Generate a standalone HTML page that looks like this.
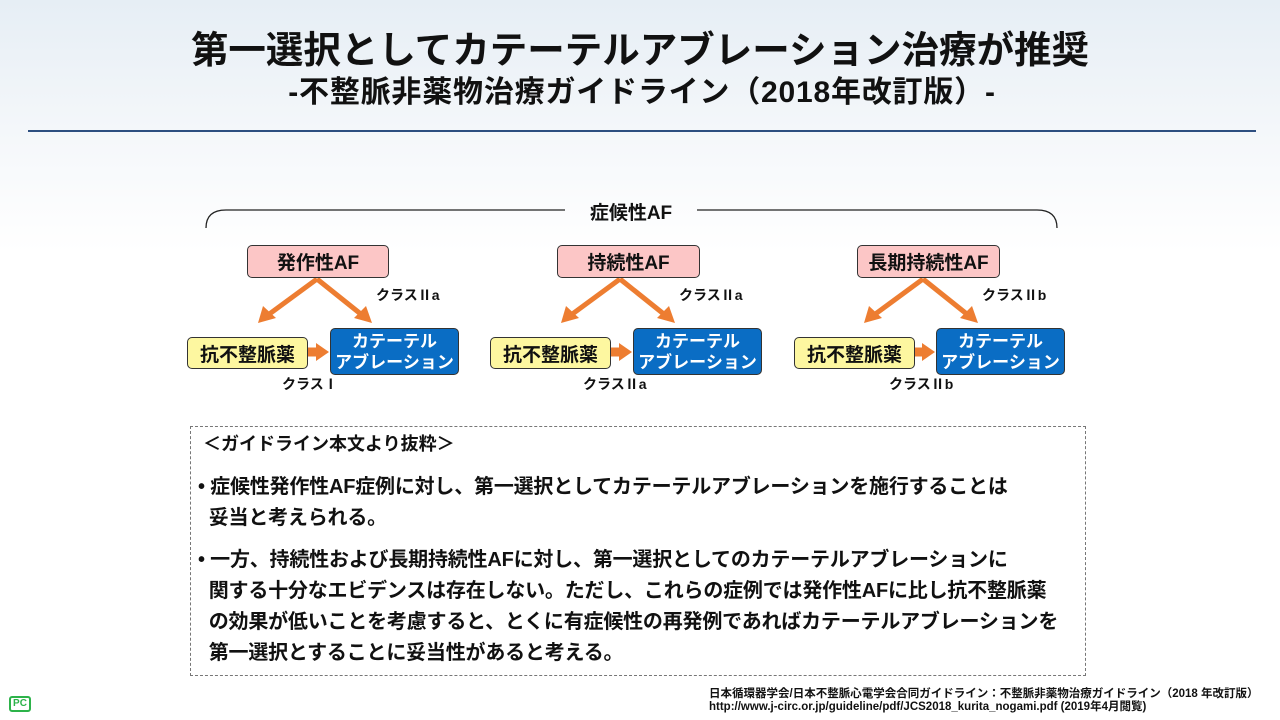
<!DOCTYPE html>
<html><head><meta charset="utf-8"><style>
body{margin:0;width:1280px;height:720px;overflow:hidden;font-family:"Liberation Sans","Noto Sans CJK JP",sans-serif;font-weight:bold;color:#111;
background:linear-gradient(180deg,#e6eef5 0%,#f4f7fa 18%,#fff 35%,#fff 100%);position:relative}
.a{position:absolute}
.t1{left:0;width:1280px;text-align:center;top:26px;font-size:37.5px;line-height:48px;padding-left:0}
.t2{left:0;width:1280px;text-align:center;top:75px;font-size:30px;line-height:36px;letter-spacing:0.8px;padding-left:2px}
.box{position:absolute;box-sizing:border-box;border:1.5px solid #333;border-radius:5px;display:flex;align-items:center;justify-content:center;text-align:center}
.pk{background:#fcc6c6;font-size:19px;height:33px;top:245px}
.yl{background:#fdf7a0;font-size:19px;width:121px;height:32px;top:337px}
.bl{background:#0a6dc4;color:#fff;font-size:17px;line-height:21px;width:129px;height:47px;top:328px}
.lb{font-size:14px}
.txt{font-size:20px;line-height:31px;letter-spacing:-0.2px}
</style></head><body>
<div class="a t1">第一選択としてカテーテルアブレーション治療が推奨</div>
<div class="a t2">-不整脈非薬物治療ガイドライン（2018年改訂版）-</div>
<div class="a" style="left:28px;top:130px;width:1228px;height:1.5px;background:#2d4f80"></div>
<svg class="a" style="left:0;top:0" width="1280" height="720">
<path d="M206 228 Q206 210 226 210 L565 210 M697 210 L1037 210 Q1057 210 1057 228" fill="none" stroke="#222" stroke-width="1.3"/>
<g fill="#ed7d31" stroke="#ed7d31">
<g id="g1">
<line x1="317" y1="279" x2="268" y2="315" stroke-width="5"/><polygon points="258,323 263,306 276,318" stroke="none"/>
<line x1="317" y1="279" x2="362" y2="315" stroke-width="5"/><polygon points="372,323 354,318 366,306" stroke="none"/>
<line x1="308" y1="352" x2="318" y2="352" stroke-width="9"/><polygon points="316,343 329,352 316,361" stroke="none"/>
</g>
<use href="#g1" x="303"/>
<use href="#g1" x="606"/>
</g>
</svg>
<div class="a" style="left:565px;width:132px;top:198px;text-align:center;font-size:19px">症候性AF</div>

<div class="box pk" style="left:247px;width:142px">発作性AF</div>
<div class="box yl" style="left:187px">抗不整脈薬</div>
<div class="box bl" style="left:330px">カテーテル<br>アブレーション</div>
<div class="a lb" style="left:376px;top:285px">クラスⅡa</div>
<div class="a lb" style="left:282px;top:374px">クラスⅠ</div>

<div class="box pk" style="left:557px;width:143px">持続性AF</div>
<div class="box yl" style="left:490px">抗不整脈薬</div>
<div class="box bl" style="left:633px">カテーテル<br>アブレーション</div>
<div class="a lb" style="left:679px;top:285px">クラスⅡa</div>
<div class="a lb" style="left:583px;top:374px">クラスⅡa</div>

<div class="box pk" style="left:857px;width:143px">長期持続性AF</div>
<div class="box yl" style="left:794px">抗不整脈薬</div>
<div class="box bl" style="left:936px">カテーテル<br>アブレーション</div>
<div class="a lb" style="left:982px;top:285px">クラスⅡb</div>
<div class="a lb" style="left:889px;top:374px">クラスⅡb</div>

<div class="a" style="left:190px;top:426px;width:896px;height:250px;border:1px dashed #777;box-sizing:border-box"></div>
<div class="a" style="left:203px;top:430px;font-size:18px">＜ガイドライン本文より抜粋＞</div>
<div class="a txt" style="left:198px;top:472px">•&nbsp;症候性発作性AF症例に対し、第一選択としてカテーテルアブレーションを施行することは<br>&nbsp;&nbsp;妥当と考えられる。</div>
<div class="a txt" style="left:198px;top:545px">•&nbsp;一方、持続性および長期持続性AFに対し、第一選択としてのカテーテルアブレーションに<br>&nbsp;&nbsp;関する十分なエビデンスは存在しない。ただし、これらの症例では発作性AFに比し抗不整脈薬<br>&nbsp;&nbsp;の効果が低いことを考慮すると、とくに有症候性の再発例であればカテーテルアブレーションを<br>&nbsp;&nbsp;第一選択とすることに妥当性があると考える。</div>

<div class="a" style="left:9px;top:696px;width:22px;height:16px;border:2px solid #2db34a;border-radius:3px;box-sizing:border-box;color:#2db34a;font-size:10px;line-height:12px;text-align:center">PC</div>
<div class="a" style="left:709px;top:688px;font-size:11.5px;line-height:13px;white-space:nowrap">日本循環器学会/日本不整脈心電学会合同ガイドライン：不整脈非薬物治療ガイドライン（2018 年改訂版）<br>http://www.j-circ.or.jp/guideline/pdf/JCS2018_kurita_nogami.pdf (2019年4月閲覧)</div>
</body></html>
